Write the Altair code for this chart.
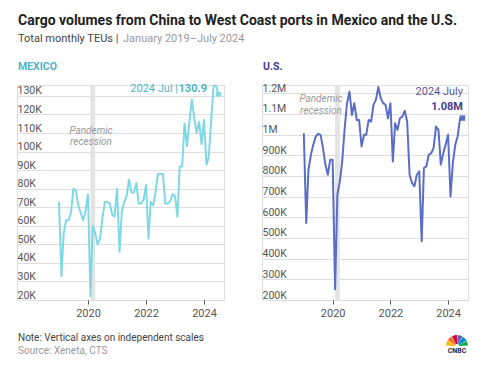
import altair as alt
import pandas as pd

FONT = "Roboto"

months = pd.date_range("2019-01-01", periods=67, freq="MS").strftime("%Y/%m/%d").tolist()

mexico_k = [
    73, 33, 56, 63, 63, 67, 80, 79, 71, 67, 63, 68,
    77, 22, 60, 56, 50, 53, 64, 73, 73, 72, 66, 65,
    80, 46, 67, 73, 76, 85, 78, 78, 83, 72, 72, 74,
    82, 53, 73, 71, 78, 88, 88, 88, 72, 72, 73, 77,
    76, 65, 92, 92, 115, 103, 116, 128, 118, 110, 116, 104,
    117, 93, 97, 117, 135.5, 135.5, 130.9,
]
us_k = [
    1007, 573, 830, 902, 951, 991, 1004, 999, 935, 855, 806, 878,
    878, 252, 710, 774, 870, 1031, 1152, 1208, 1095, 1152, 1071, 1071,
    943, 999, 999, 1071, 1063, 1144, 1168, 1230, 1176, 1152, 1144, 1079,
    1152, 870, 1055, 1023, 1079, 1087, 1115, 1063, 806, 766, 750, 806,
    822, 484, 838, 846, 902, 910, 935, 1039, 1023, 855, 910, 951,
    999, 701, 862, 951, 991, 1080, 1080,
]
recession = {"start": ["2020/02/01"], "end": ["2020/04/01"]}

mexico_ticks = [20000, 30000, 40000, 50000, 60000, 70000, 80000, 90000,
                100000, 110000, 120000, 130000]
us_ticks = [200000, 300000, 400000, 500000, 600000, 700000, 800000, 900000,
            1000000, 1100000, 1200000]

MX_LINE = "#80d8e5"
MX_DARK = "#4fb5c6"
US_LINE = "#5b6ec6"
US_DARK = "#463d8e"

W, H = 207, 215

x_scale = alt.Scale(domain=[alt.DateTime(year=2017, month=7, date=21),
                            alt.DateTime(year=2024, month=9, date=9)])
x_axis = alt.Axis(
    values=[alt.DateTime(year=y, month=1, date=1) for y in (2020, 2022, 2024)],
    format="%Y", grid=False, domain=False, ticks=True, tickSize=4,
    tickColor="#555", labelColor="#555", labelFontSize=11, labelPadding=3,
    labelFont=FONT, title=None, labelFlush=False,
)


def y_axis(vals, expr):
    return alt.Axis(
        values=vals, labelExpr=expr, grid=True, gridColor="#dedede",
        domain=False, ticks=False, labelAlign="left", labelBaseline="alphabetic",
        labelPadding=0, labelOffset=-2, labelColor="#555", labelFontSize=10.5,
        labelFont=FONT, labelOverlap=False, title=None,
    )


def label(text, x, y, size=11, color="#444", weight="normal", align="left",
          style="normal"):
    return alt.Chart(pd.DataFrame({"t": [text]})).mark_text(
        align=align, baseline="alphabetic", fontSize=size, color=color,
        fontWeight=weight, fontStyle=style, font=FONT,
    ).encode(x=alt.value(x), y=alt.value(y), text="t:N")


def panel(values, domain, ticks, expr, line_color, shape):
    df = pd.DataFrame({"date": months, "value": values})
    y_enc = alt.Y("value:Q", scale=alt.Scale(domain=domain, nice=False, zero=False),
                  axis=y_axis(ticks, expr))
    x_enc = alt.X("date:T", scale=x_scale, axis=x_axis)
    band = alt.Chart(pd.DataFrame(recession)).mark_rect(color="#e4e4e4").encode(
        x=alt.X("start:T", scale=x_scale, axis=x_axis), x2="end:T",
        y=alt.value(0), y2=alt.value(H),
    )
    line = alt.Chart(df).mark_line(color=line_color, strokeWidth=2,
                                   strokeJoin="round").encode(x=x_enc, y=y_enc)
    end = alt.Chart(df.tail(1)).mark_point(
        filled=True, color=line_color, size=30, shape=shape, opacity=1
    ).encode(x=x_enc, y=y_enc)
    return band, line, end


mx_vals = [v * 1000 for v in mexico_k]
us_vals = [v * 1000 for v in us_k]

mx_band, mx_line, mx_end = panel(
    mx_vals, [20000, 135900], mexico_ticks, "datum.value / 1000 + 'K'",
    MX_LINE, "circle")
us_band, us_line, us_end = panel(
    us_vals, [200000, 1240000], us_ticks,
    "datum.value >= 1000000 ? format(datum.value / 1000000, '.1~f') + 'M' : datum.value / 1000 + 'K'",
    US_LINE, "square")

mexico = alt.layer(
    mx_band, mx_line, mx_end,
    label("Cargo volumes from China to West Coast ports in Mexico and the U.S.",
          1, -60, size=14, color="#222", weight="bold"),
    label("Total monthly TEUs |", 1, -43, size=11, color="#444"),
    label("January 2019\u2013July 2024", 106, -43, size=11, color="#999"),
    label("MEXICO", 1, -15, size=10.5, color=MX_DARK, weight="bold"),
    label("Pandemic", 74, 49, size=10, color="#999", align="center", style="italic"),
    label("recession", 74, 60, size=10, color="#999", align="center", style="italic"),
    label("2024 Jul |", 161, 7, size=11, color=MX_DARK, align="right"),
    label("130.9", 190, 7, size=11, color=MX_DARK, weight="bold", align="right"),
    label("Note: Vertical axes on independent scales", 1, 256, size=10, color="#444"),
    label("Source: Xeneta, CTS", 1, 269, size=10, color="#999"),
).properties(width=W, height=H)

logo_df = pd.DataFrame({
    "t0": [4.76, 5.28, 5.81, 0.05, 0.57, 1.10],
    "t1": [5.24, 5.76, 6.28, 0.52, 1.05, 1.52],
    "c": ["#fcb711", "#f37021", "#cc004c", "#6460aa", "#0089d0", "#0db14b"],
})
logo = alt.Chart(logo_df).mark_arc(innerRadius=2, outerRadius=11).encode(
    theta=alt.Theta("t0:Q", scale=None), theta2="t1:Q",
    color=alt.Color("c:N", scale=None),
    x=alt.value(195), y=alt.value(261),
)

us = alt.layer(
    us_band, us_line, us_end,
    label("U.S.", 1, -15, size=10.5, color=US_DARK, weight="bold"),
    label("Pandemic", 59, 17, size=10, color="#999", align="center", style="italic"),
    label("recession", 59, 29, size=10, color="#999", align="center", style="italic"),
    label("2024 July", 201, 10, size=11, color="#5b579e", align="right"),
    label("1.08M", 201, 25, size=11, color=US_DARK, weight="bold", align="right"),
    logo,
    label("CNBC", 195, 268, size=7, color="#1c2a5a", weight="bold", align="center"),
).properties(width=W - 1, height=H)

chart = alt.hconcat(mexico, us, spacing=38, bounds="flush").properties(
    padding={"left": 8, "top": 5, "right": 5, "bottom": 5}
).configure_view(stroke=None).configure(font=FONT)

chart.save("out.html", embed_options={"renderer": "svg", "actions": False})
